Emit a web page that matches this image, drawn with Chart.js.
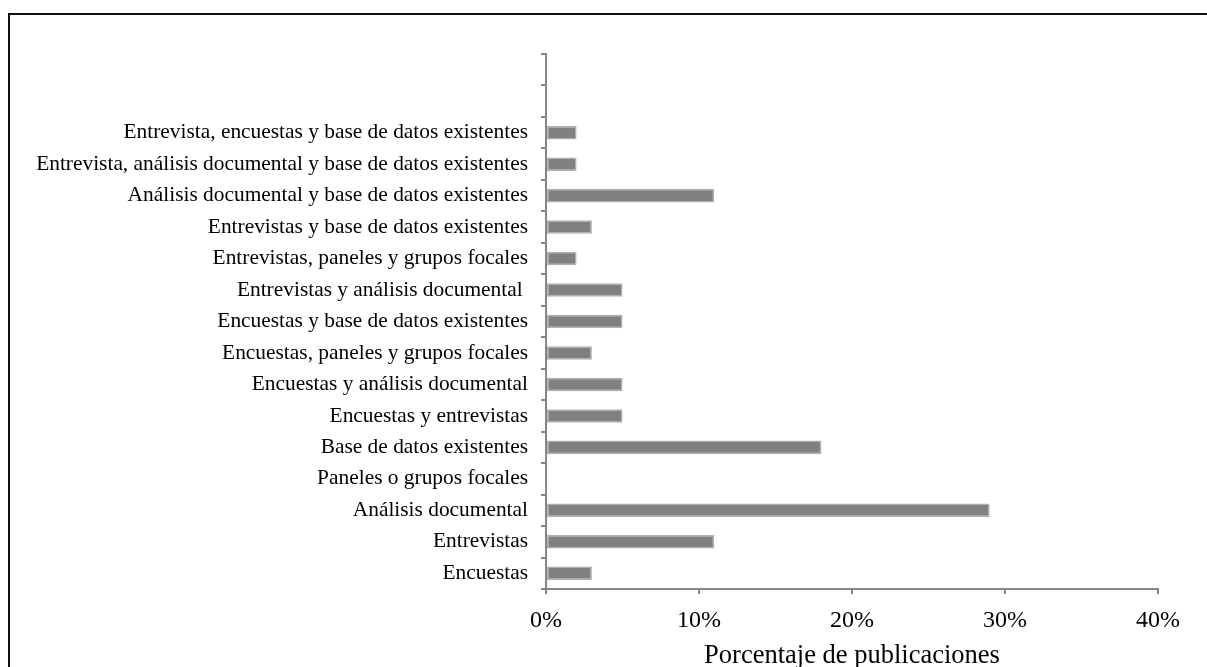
<!DOCTYPE html>
<html>
<head>
<meta charset="utf-8">
<script src="https://cdn.jsdelivr.net/npm/chart.js@4"></script>
<style>
  html, body { margin: 0; padding: 0; background: #fff; overflow: hidden; }
  #frame {
    position: absolute;
    left: 8px;
    top: 13px;
    width: 1220px;
    height: 700px;
    border-left: 2px solid #111;
    border-top: 2px solid #111;
  }
  #wrap { position: absolute; left: 0; top: 0; width: 1207px; height: 680px; }
</style>
</head>
<body>
<div id="frame"></div>
<div id="wrap"><canvas id="methodsChart"></canvas></div>
<script>
const categories = [
  "",
  "",
  "Entrevista, encuestas y base de datos existentes",
  "Entrevista, análisis documental y base de datos existentes",
  "Análisis documental y base de datos existentes",
  "Entrevistas y base de datos existentes",
  "Entrevistas, paneles y grupos focales",
  "Entrevistas y análisis documental ",
  "Encuestas y base de datos existentes",
  "Encuestas, paneles y grupos focales",
  "Encuestas y análisis documental",
  "Encuestas y entrevistas",
  "Base de datos existentes",
  "Paneles o grupos focales",
  "Análisis documental",
  "Entrevistas",
  "Encuestas",
];

const percentages = [null, null, 2, 2, 11, 3, 2, 5, 5, 3, 5, 5, 18, null, 29, 11, 3];

const xTicks = [0, 10, 20, 30, 40];
const xTitle = "Porcentaje de publicaciones";

const axisGray = "#868686";
const serif = "'Liberation Serif', 'Times New Roman', serif";

const methodsChart = document.getElementById("methodsChart");

const config = {
  type: "bar",
  data: {
    labels: categories,
    datasets: [
      {
        label: "Porcentaje",
        data: percentages,
        backgroundColor: "#808080",
        borderColor: "#b0b0b0",
        borderWidth: 1.5,
        borderSkipped: false,
        barPercentage: 0.43,
        categoryPercentage: 1,
      },
    ],
  },
  options: {
    indexAxis: "y",
    responsive: true,
    maintainAspectRatio: false,
    animation: false,
    layout: {
      padding: { top: 54, right: 49, left: 0, bottom: 0 },
    },
    plugins: {
      legend: { display: false },
      tooltip: { enabled: false },
    },
    scales: {
      x: {
        min: 0,
        max: 40,
        afterBuildTicks: (scale) => {
          scale.ticks = xTicks.map((value) => ({ value }));
        },
        afterFit: (scale) => {
          scale.height = 91;
        },
        grid: {
          drawOnChartArea: false,
          drawTicks: true,
          tickLength: 5,
          color: axisGray,
          lineWidth: 2,
        },
        border: { color: axisGray, width: 2 },
        ticks: {
          color: "#000",
          padding: 12,
          font: { family: serif, size: 24 },
          callback: (value) => value + "%",
        },
        title: {
          display: true,
          text: xTitle,
          color: "#000",
          font: { family: serif, size: 26.5 },
          padding: { top: 0, bottom: 8 },
        },
      },
      y: {
        afterFit: (scale) => {
          scale.width = 546;
        },
        grid: {
          drawOnChartArea: false,
          drawTicks: true,
          tickLength: 5,
          color: axisGray,
          lineWidth: 2,
        },
        border: { color: axisGray, width: 2 },
        ticks: {
          color: "#000",
          padding: 13,
          autoSkip: false,
          font: { family: serif, size: 21.4 },
        },
      },
    },
  },
};

new Chart(methodsChart, config);
</script>
</body>
</html>
